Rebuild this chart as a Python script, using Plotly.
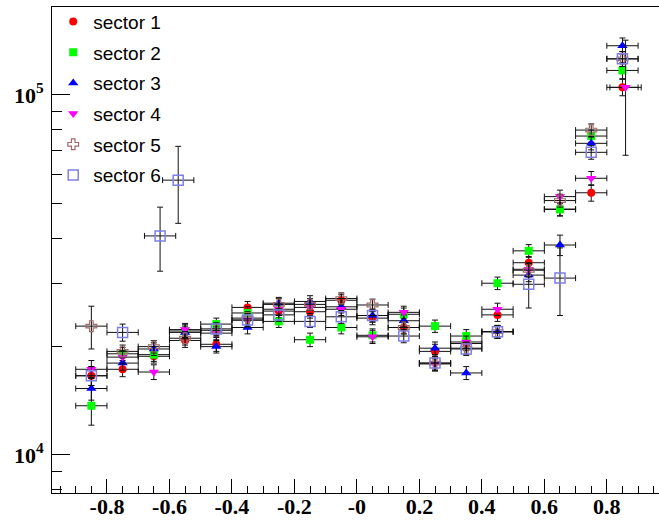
import plotly.graph_objects as go

# ---------------- data ----------------
bin_centers = [-0.85, -0.75, -0.65, -0.55, -0.45, -0.35, -0.25, -0.15, -0.05,
               0.05, 0.15, 0.25, 0.35, 0.45, 0.55, 0.65, 0.75, 0.85]
bin_half_width = 0.05

sector1_x = bin_centers
sector1_y = [16600, 17300, 18800, 20800, 20300, 25700, 25100, 25000, 26900,
             24000, 22600, 19400, 20400, 24500, 34200, 48200, 53500, 105000]
sector1_err = [1000, 800, 800, 900, 900, 1000, 1000, 1000, 1000,
               1000, 900, 900, 900, 1000, 1400, 2000, 2800, 5500]

sector2_x = bin_centers
sector2_y = [13700, 19100, 19000, 22100, 23100, 24800, 23500, 20900, 22600,
             21500, 24600, 22800, 21400, 30000, 36900, 48100, 76900, 117000]
sector2_err = [1600, 800, 800, 900, 900, 1000, 900, 900, 900,
               900, 1000, 900, 900, 1200, 1500, 2000, 3000, 6000]

sector3_x = bin_centers
sector3_y = [15300, 18000, 19700, 21900, 20000, 22600, 26400, 26700, 25800,
             24400, 23600, 19800, 16900, 22000, 31600, 38300, 73400, 137000]
sector3_err = [1100, 800, 800, 900, 800, 900, 1000, 1000, 1000,
               1000, 900, 800, 700, 900, 1300, 2500, 3000, 7000]

sector4_x = [-0.85, -0.75, -0.65, -0.55, -0.45, -0.35, -0.25, -0.15, -0.05,
             0.05, 0.15, 0.25, 0.35, 0.45, 0.55, 0.65, 0.75, 0.86]
sector4_y = [17300, 18700, 17000, 22300, 21800, 23700, 25400, 25700, 25400,
             21300, 24900, 17900, 20600, 25400, 32800, 52200, 58700, 105000]
sector4_err = [1000, 800, 800, 900, 900, 1000, 1000, 1000, 1000,
               900, 1000, 800, 800, 1000, 1400, 2200, 2600, 37000]

sector5_x = bin_centers
sector5_y = [22800, 19400, 20000, 21100, 22200, 24000, 26200, 26200, 27200,
             26100, 22600, 18000, 19800, 22000, 32600, 50900, 79900, 126000]
sector5_err = [3100, 800, 800, 900, 900, 1000, 1000, 1000, 1000,
               1000, 900, 800, 800, 900, 1400, 2100, 3200, 6000]

sector6_x = [-0.85, -0.75, -0.63, -0.572, -0.45, -0.35, -0.25, -0.15, -0.05,
             0.05, 0.15, 0.25, 0.35, 0.45, 0.55, 0.65, 0.75, 0.85]
sector6_y = [16600, 21900, 40600, 58000, 22400, 23700, 24500, 23500, 24200,
             24400, 21400, 18000, 19700, 22000, 29800, 31000, 69300, 126000]
sector6_err = [1000, 1200, 8200, 14000, 900, 1000, 1000, 900, 1000,
               1000, 900, 800, 800, 900, 4200, 6600, 3000, 6000]

series_names = ["sector 1", "sector 2", "sector 3", "sector 4", "sector 5", "sector 6"]

x_tick_vals = [-0.8, -0.6, -0.4, -0.2, 0.0, 0.2, 0.4, 0.6, 0.8]
x_tick_text = ["-0.8", "-0.6", "-0.4", "-0.2", "-0", "0.2", "0.4", "0.6", "0.8"]
y_tick_vals = [1e4, 1e5]
y_tick_text = ["10<sup>4</sup>", "10<sup>5</sup>"]
y_minor_vals = [8000, 9000, 20000, 30000, 40000, 50000, 60000, 70000, 80000, 90000]

# ---------------- styles ----------------
styles = [
    dict(symbol="circle", size=8, color="#ff0000", line=dict(width=0)),
    dict(symbol="square", size=8, color="#00ff00", line=dict(width=0)),
    dict(symbol="triangle-up", size=9, color="#0000ff", line=dict(width=0)),
    dict(symbol="triangle-down", size=9, color="#ff00ff", line=dict(width=0)),
    dict(symbol="cross-open", size=9, color="#a06a6a", line=dict(width=1.2, color="#a06a6a")),
    dict(symbol="square-open", size=10, color="#7f7fe6", line=dict(width=1.5, color="#7f7fe6")),
]

data = [
    (sector1_x, sector1_y, sector1_err),
    (sector2_x, sector2_y, sector2_err),
    (sector3_x, sector3_y, sector3_err),
    (sector4_x, sector4_y, sector4_err),
    (sector5_x, sector5_y, sector5_err),
    (sector6_x, sector6_y, sector6_err),
]

fig = go.Figure()
for i, (name, (xs, ys, es), st) in enumerate(zip(series_names, data, styles)):
    fig.add_trace(go.Scatter(
        x=xs, y=ys, mode="markers", name=name, legendgroup=f"g{i}",
        marker=st,
        error_y=dict(type="data", array=es, visible=True, color="#111111",
                     thickness=1, width=3),
        error_x=dict(type="constant", value=bin_half_width, visible=True,
                     color="#111111", thickness=1, width=3),
    ))

tick_font = dict(family="Liberation Serif", size=22, color="black", weight="bold")

fig.update_layout(
    width=659, height=523,
    margin=dict(l=52, r=0, t=7, b=30, autoexpand=False),
    paper_bgcolor="white", plot_bgcolor="white",
    showlegend=True,
    legend=dict(
        x=0.002, y=1.009, xanchor="left", yanchor="top",
        bgcolor="rgba(0,0,0,0)", borderwidth=0,
        font=dict(family="Liberation Sans", size=19, color="black"),
        itemwidth=30, tracegroupgap=3,
    ),
    xaxis=dict(
        range=[-0.976, 0.967],
        showline=True, linecolor="black", linewidth=1, mirror=True,
        ticks="inside", ticklen=14, tickwidth=1, tickcolor="black",
        tickmode="array", tickvals=x_tick_vals, ticktext=x_tick_text,
        tickfont=tick_font, ticklabelstandoff=-6,
        minor=dict(ticks="inside", ticklen=7, tickwidth=1, tickcolor="black",
                   dtick=0.05, tick0=0),
        showgrid=False, zeroline=False,
    ),
    yaxis=dict(
        type="log", range=[3.8944, 5.2444],
        showline=True, linecolor="black", linewidth=1, mirror=False,
        ticks="inside", ticklen=18, tickwidth=1, tickcolor="black",
        tickmode="array", tickvals=y_tick_vals, ticktext=y_tick_text,
        tickfont=tick_font, ticklabelstandoff=3,
        minor=dict(ticks="inside", ticklen=10, tickwidth=1, tickcolor="black",
                   tickmode="array", tickvals=y_minor_vals),
        showgrid=False, zeroline=False,
    ),
)

fig.write_html(
    "out.html",
    config={"displayModeBar": False},
    post_script="document.body.style.margin='0px';document.body.style.overflow='hidden';",
)
